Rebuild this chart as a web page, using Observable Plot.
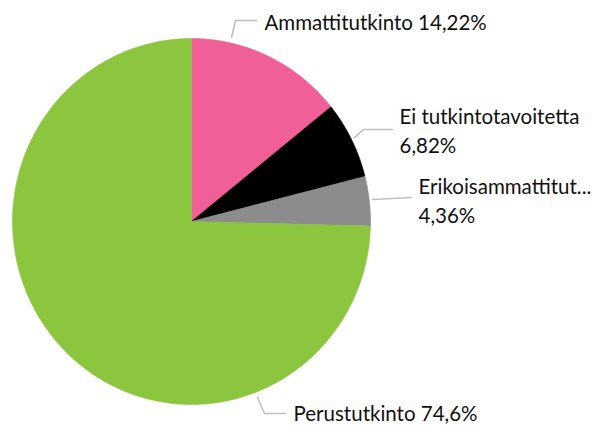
<!DOCTYPE html>
<html>
<head>
<meta charset="utf-8">
<script src="https://cdn.jsdelivr.net/npm/d3@7"></script>
<script src="https://cdn.jsdelivr.net/npm/@observablehq/plot@0.6"></script>
<style>
  html, body { margin: 0; padding: 0; background: #fff; }
  #chart svg { display: block; }
</style>
</head>
<body>
<div id="chart"></div>
<script>
// ---- data ----
const categories = ["Ammattitutkinto", "Ei tutkintotavoitetta", "Erikoisammattitutkinto", "Perustutkinto"];
const displayNames = ["Ammattitutkinto", "Ei tutkintotavoitetta", "Erikoisammattitut...", "Perustutkinto"];
const values = [14.22, 6.82, 4.36, 74.6];
const colors = ["#f05f97", "#000000", "#8c8c8c", "#8cc63f"];

// ---- label layout (pie-radius units, annotation only) ----
const labelLayout = [
  {leader: [[0.2235, -1.0055], [0.2458, -1.0984], [0.3631, -1.0984]], tx: 0.4078, ty: -1.0984, wrap: false},
  {leader: [[0.9106, -0.459], [0.9609, -0.5027], [1.1229, -0.5027]], tx: 1.162, ty: -0.5027, wrap: true},
  {leader: [[1.0112, -0.1202], [1.2291, -0.1311]], tx: 1.2682, ty: -0.12, wrap: true},
  {leader: [[0.3687, 0.9617], [0.4078, 1.0492], [0.5251, 1.0492]], tx: 0.5698, ty: 1.04, wrap: false}
];

const data = categories.map((c, i) => ({name: c, value: values[i]}));
const arcs = d3.pie().sort(null).value(d => d.value)(data);

// polygon points per slice (center + arc samples)
const slicePts = [];
arcs.forEach(a => {
  const name = a.data.name;
  slicePts.push({name, x: 0, y: 0});
  const n = Math.max(2, Math.ceil((a.endAngle - a.startAngle) / (Math.PI / 360)));
  for (let k = 0; k <= n; k++) {
    const t = a.startAngle + (a.endAngle - a.startAngle) * k / n;
    slicePts.push({name, x: Math.sin(t), y: -Math.cos(t)});
  }
  slicePts.push({name, x: 0, y: 0});
});

const fmt = v => String(v).replace(".", ",") + "%";
const leaderPts = [];
const labels = [];
labelLayout.forEach((L, i) => {
  L.leader.forEach(p => leaderPts.push({id: i, x: p[0], y: p[1]}));
  labels.push({
    x: L.tx, y: L.ty,
    text: displayNames[i] + (L.wrap ? "\n" : " ") + fmt(values[i])
  });
});

const chart = Plot.plot({
  width: 603,
  height: 425,
  margin: 0,
  x: {domain: [-1, 1], range: [12, 370], axis: null},
  y: {domain: [-1, 1], range: [38, 404], axis: null},
  color: {domain: categories, range: colors},
  style: {background: "#fff"},
  marks: [
    Plot.line(slicePts, {x: "x", y: "y", z: "name", fill: "name", stroke: "name", strokeWidth: 0.6, curve: "linear"}),
    Plot.line(leaderPts, {x: "x", y: "y", z: "id", stroke: "#bfbfbf", strokeWidth: 1.6}),
    Plot.text(labels, {
      x: "x", y: "y", text: "text",
      textAnchor: "start", lineAnchor: "middle",
      fontSize: 20.5, lineHeight: 1.42,
      fontFamily: "Lato, 'Open Sans', sans-serif",
      fill: "#111"
    })
  ]
});
document.getElementById("chart").appendChild(chart);
</script>
</body>
</html>
